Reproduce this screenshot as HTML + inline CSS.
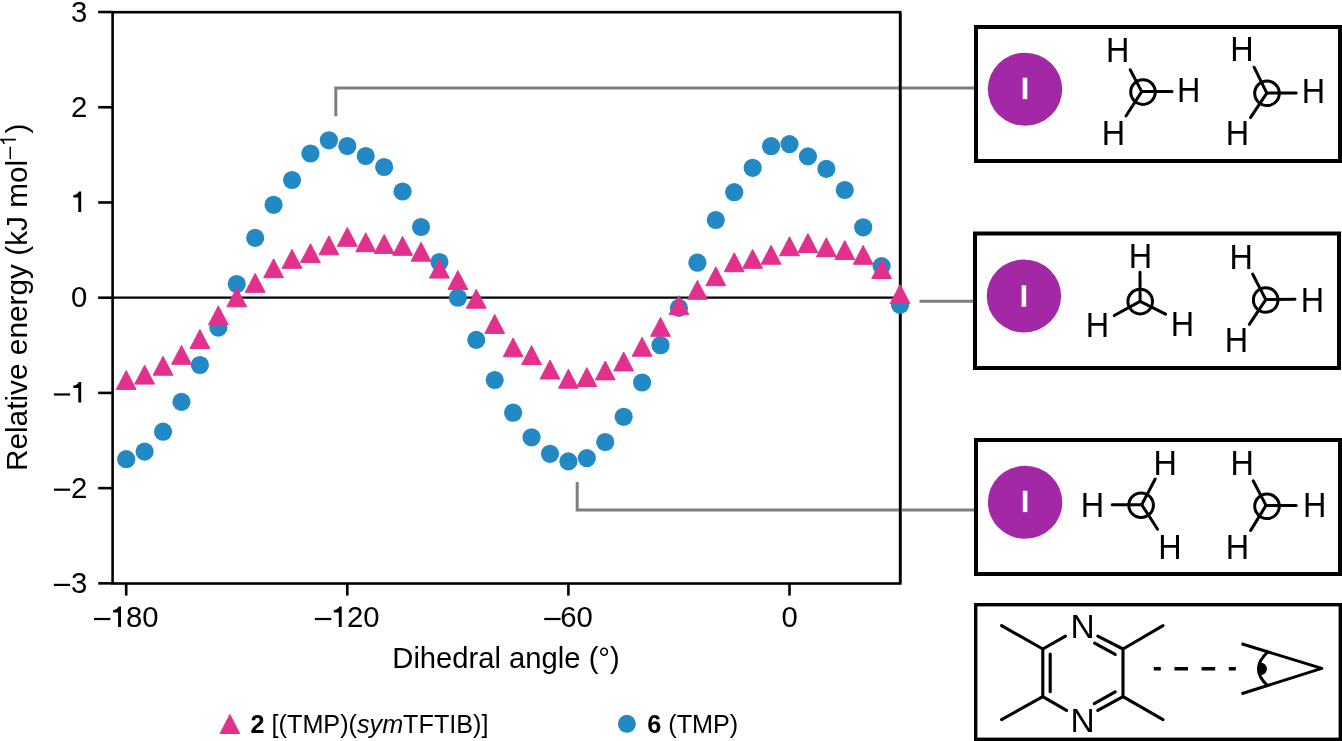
<!DOCTYPE html>
<html><head><meta charset="utf-8"><style>
html,body{margin:0;padding:0;background:#fff;width:1342px;height:741px;overflow:hidden}
svg{display:block;will-change:transform}
text{font-family:"Liberation Sans",sans-serif}
</style></head><body>
<svg width="1342" height="741" viewBox="0 0 1342 741">
<g stroke="#000" stroke-width="2.6" fill="none">
<rect x="112.6" y="12.2" width="787.6" height="571.3"/>
</g>
<line x1="112.6" y1="297.6" x2="900" y2="297.6" stroke="#000" stroke-width="2.4"/>
<g stroke="#000" stroke-width="2.6">
<line x1="98.2" y1="583.36" x2="112.6" y2="583.36"/>
<line x1="98.2" y1="488.14" x2="112.6" y2="488.14"/>
<line x1="98.2" y1="392.92" x2="112.6" y2="392.92"/>
<line x1="98.2" y1="297.70" x2="112.6" y2="297.70"/>
<line x1="98.2" y1="202.48" x2="112.6" y2="202.48"/>
<line x1="98.2" y1="107.26" x2="112.6" y2="107.26"/>
<line x1="98.2" y1="12.04" x2="112.6" y2="12.04"/>
<line x1="126.20" y1="583.5" x2="126.20" y2="595.6"/>
<line x1="347.30" y1="583.5" x2="347.30" y2="595.6"/>
<line x1="568.40" y1="583.5" x2="568.40" y2="595.6"/>
<line x1="789.50" y1="583.5" x2="789.50" y2="595.6"/>
</g>
<text font-family="Liberation Sans" font-size="29.3" text-anchor="end" transform="translate(87.2,592.96) scale(1,1.015)">3</text>
<rect x="53.9" y="583.81" width="16.2" height="2.2" fill="#000"/>
<text font-family="Liberation Sans" font-size="29.3" text-anchor="end" transform="translate(87.2,497.74) scale(1,1.015)">2</text>
<rect x="53.9" y="488.59" width="16.2" height="2.2" fill="#000"/>
<path transform="translate(78.30,402.52)" d="M0.6,-20.6 L2.9,-20.6 L2.9,0 L0,0 L0,-14.6 L-5,-14.6 L-5,-16.9 C-2.4,-17.1 -0.5,-18.4 0.6,-20.6 Z" fill="#000"/>
<rect x="53.9" y="393.37" width="16.2" height="2.2" fill="#000"/>
<text font-family="Liberation Sans" font-size="29.3" text-anchor="end" transform="translate(87.2,307.30) scale(1,1.015)">0</text>
<path transform="translate(78.30,212.08)" d="M0.6,-20.6 L2.9,-20.6 L2.9,0 L0,0 L0,-14.6 L-5,-14.6 L-5,-16.9 C-2.4,-17.1 -0.5,-18.4 0.6,-20.6 Z" fill="#000"/>
<text font-family="Liberation Sans" font-size="29.3" text-anchor="end" transform="translate(87.2,116.86) scale(1,1.015)">2</text>
<text font-family="Liberation Sans" font-size="29.3" text-anchor="end" transform="translate(87.2,21.64) scale(1,1.015)">3</text>
<text font-family="Liberation Sans" font-size="29.3" text-anchor="middle" transform="translate(789.6,627) scale(1,1.015)">0</text>
<rect x="94.0" y="617.9" width="16.4" height="2.2" fill="#000"/>
<path transform="translate(118.10,627.10)" d="M0.6,-20.6 L2.9,-20.6 L2.9,0 L0,0 L0,-14.6 L-5,-14.6 L-5,-16.9 C-2.4,-17.1 -0.5,-18.4 0.6,-20.6 Z" fill="#000"/>
<text font-family="Liberation Sans" font-size="29.3" transform="translate(126.0,627) scale(1,1.015)">80</text>
<rect x="314.9" y="617.9" width="16.4" height="2.2" fill="#000"/>
<path transform="translate(338.80,627.10)" d="M0.6,-20.6 L2.9,-20.6 L2.9,0 L0,0 L0,-14.6 L-5,-14.6 L-5,-16.9 C-2.4,-17.1 -0.5,-18.4 0.6,-20.6 Z" fill="#000"/>
<text font-family="Liberation Sans" font-size="29.3" transform="translate(346.9,627) scale(1,1.015)">20</text>
<rect x="544.2" y="617.9" width="16.4" height="2.2" fill="#000"/>
<text font-family="Liberation Sans" font-size="29.3" transform="translate(560.2,627) scale(1,1.015)">60</text>
<text font-family="Liberation Sans" font-size="29.2" x="392.3" y="668.2">Dihedral angle (°)</text>
<g transform="translate(26.8,471.1) rotate(-90)"><text font-family="Liberation Sans" font-size="29.8" x="0" y="0">Relative energy (kJ mol</text><text font-family="Liberation Sans" font-size="22" x="312.2" y="-11.3">&#8211;</text><path d="M330.7,-11 L332.4,-11 L332.4,-27.5 L331.0,-27.5 C330.6,-25.6 329.4,-24.0 327.2,-23.4 L327.2,-22.0 C328.8,-22.2 330.0,-22.8 330.7,-23.6 Z" fill="#000"/><text font-family="Liberation Sans" font-size="29.8" x="337.5" y="0">)</text></g>
<g stroke="#7F7F7F" stroke-width="3.0" fill="none">
<polyline points="335.8,116.3 335.8,88.1 974,88.1"/>
<line x1="919.5" y1="301.3" x2="974" y2="301.3"/>
<polyline points="577.2,482.1 577.2,509.9 974,509.9"/>
</g>
<line x1="900.2" y1="12.2" x2="900.2" y2="583.5" stroke="#000" stroke-width="2.6"/>
<g fill="#2389C5">
<circle cx="126.20" cy="459.20" r="9.1"/>
<circle cx="144.62" cy="451.60" r="9.1"/>
<circle cx="163.05" cy="431.70" r="9.1"/>
<circle cx="181.48" cy="401.90" r="9.1"/>
<circle cx="199.90" cy="365.00" r="9.1"/>
<circle cx="218.33" cy="327.60" r="9.1"/>
<circle cx="236.75" cy="284.00" r="9.1"/>
<circle cx="255.17" cy="237.90" r="9.1"/>
<circle cx="273.60" cy="204.80" r="9.1"/>
<circle cx="292.02" cy="180.00" r="9.1"/>
<circle cx="310.45" cy="153.50" r="9.1"/>
<circle cx="328.88" cy="140.30" r="9.1"/>
<circle cx="347.30" cy="146.00" r="9.1"/>
<circle cx="365.72" cy="156.00" r="9.1"/>
<circle cx="384.15" cy="167.00" r="9.1"/>
<circle cx="402.57" cy="191.50" r="9.1"/>
<circle cx="421.00" cy="227.00" r="9.1"/>
<circle cx="439.43" cy="262.00" r="9.1"/>
<circle cx="457.85" cy="297.70" r="9.1"/>
<circle cx="476.27" cy="339.90" r="9.1"/>
<circle cx="494.70" cy="380.00" r="9.1"/>
<circle cx="513.12" cy="412.70" r="9.1"/>
<circle cx="531.55" cy="437.30" r="9.1"/>
<circle cx="549.98" cy="453.80" r="9.1"/>
<circle cx="568.40" cy="461.40" r="9.1"/>
<circle cx="586.83" cy="458.10" r="9.1"/>
<circle cx="605.25" cy="442.00" r="9.1"/>
<circle cx="623.67" cy="416.80" r="9.1"/>
<circle cx="642.10" cy="382.50" r="9.1"/>
<circle cx="660.52" cy="345.20" r="9.1"/>
<circle cx="678.95" cy="307.90" r="9.1"/>
<circle cx="697.38" cy="262.70" r="9.1"/>
<circle cx="715.80" cy="220.00" r="9.1"/>
<circle cx="734.23" cy="192.20" r="9.1"/>
<circle cx="752.65" cy="167.80" r="9.1"/>
<circle cx="771.08" cy="146.20" r="9.1"/>
<circle cx="789.50" cy="144.10" r="9.1"/>
<circle cx="807.92" cy="156.40" r="9.1"/>
<circle cx="826.35" cy="168.90" r="9.1"/>
<circle cx="844.77" cy="190.00" r="9.1"/>
<circle cx="863.20" cy="227.30" r="9.1"/>
<circle cx="881.62" cy="266.10" r="9.1"/>
<circle cx="900.05" cy="304.90" r="9.1"/>
</g>
<g fill="#E2318D" stroke="#E2318D" stroke-width="1" stroke-linejoin="round">
<polygon points="126.20,370.50 136.10,389.40 116.30,389.40"/>
<polygon points="144.62,365.20 154.53,384.10 134.72,384.10"/>
<polygon points="163.05,356.30 172.95,375.20 153.15,375.20"/>
<polygon points="181.48,345.40 191.38,364.30 171.58,364.30"/>
<polygon points="199.90,329.60 209.80,348.50 190.00,348.50"/>
<polygon points="218.33,305.90 228.23,324.80 208.43,324.80"/>
<polygon points="236.75,287.90 246.65,306.80 226.85,306.80"/>
<polygon points="255.17,273.40 265.07,292.30 245.27,292.30"/>
<polygon points="273.60,258.80 283.50,277.70 263.70,277.70"/>
<polygon points="292.02,249.40 301.92,268.30 282.12,268.30"/>
<polygon points="310.45,243.70 320.35,262.60 300.55,262.60"/>
<polygon points="328.88,235.90 338.77,254.80 318.98,254.80"/>
<polygon points="347.30,227.40 357.20,246.30 337.40,246.30"/>
<polygon points="365.72,232.80 375.62,251.70 355.82,251.70"/>
<polygon points="384.15,234.50 394.05,253.40 374.25,253.40"/>
<polygon points="402.57,236.40 412.47,255.30 392.68,255.30"/>
<polygon points="421.00,242.30 430.90,261.20 411.10,261.20"/>
<polygon points="439.43,259.20 449.32,278.10 429.53,278.10"/>
<polygon points="457.85,270.50 467.75,289.40 447.95,289.40"/>
<polygon points="476.27,289.30 486.17,308.20 466.38,308.20"/>
<polygon points="494.70,314.50 504.60,333.40 484.80,333.40"/>
<polygon points="513.12,337.90 523.02,356.80 503.23,356.80"/>
<polygon points="531.55,345.70 541.45,364.60 521.65,364.60"/>
<polygon points="549.98,360.10 559.88,379.00 540.08,379.00"/>
<polygon points="568.40,369.30 578.30,388.20 558.50,388.20"/>
<polygon points="586.83,367.60 596.73,386.50 576.93,386.50"/>
<polygon points="605.25,361.00 615.15,379.90 595.35,379.90"/>
<polygon points="623.67,352.00 633.57,370.90 613.77,370.90"/>
<polygon points="642.10,337.30 652.00,356.20 632.20,356.20"/>
<polygon points="660.52,317.40 670.42,336.30 650.62,336.30"/>
<polygon points="678.95,295.70 688.85,314.60 669.05,314.60"/>
<polygon points="697.38,280.40 707.27,299.30 687.48,299.30"/>
<polygon points="715.80,266.80 725.70,285.70 705.90,285.70"/>
<polygon points="734.23,252.80 744.12,271.70 724.33,271.70"/>
<polygon points="752.65,249.40 762.55,268.30 742.75,268.30"/>
<polygon points="771.08,245.30 780.98,264.20 761.18,264.20"/>
<polygon points="789.50,236.80 799.40,255.70 779.60,255.70"/>
<polygon points="807.92,233.60 817.82,252.50 798.02,252.50"/>
<polygon points="826.35,237.80 836.25,256.70 816.45,256.70"/>
<polygon points="844.77,240.60 854.67,259.50 834.88,259.50"/>
<polygon points="863.20,245.40 873.10,264.30 853.30,264.30"/>
<polygon points="881.62,259.60 891.52,278.50 871.73,278.50"/>
<polygon points="900.05,284.60 909.95,303.50 890.15,303.50"/>
</g>
<polygon points="229.9,714.5 239.7,733.5 220.1,733.5" fill="#E2318D" stroke="#E2318D" stroke-width="1" stroke-linejoin="round"/>
<text font-family="Liberation Sans" font-size="25.2" x="250.6" y="732.8"><tspan font-weight="bold">2</tspan> [(TMP)(<tspan font-style="italic">sym</tspan>TFTIB)]</text>
<circle cx="626.9" cy="723.8" r="9" fill="#2389C5"/>
<text font-family="Liberation Sans" font-size="25.2" x="647.3" y="732.8"><tspan font-weight="bold">6</tspan> (TMP)</text>
<rect x="976.0" y="27.0" width="364" height="134" fill="none" stroke="#000" stroke-width="4"/>
<rect x="975.0" y="233.5" width="364" height="134.5" fill="none" stroke="#000" stroke-width="4"/>
<rect x="976.0" y="440.0" width="364" height="134" fill="none" stroke="#000" stroke-width="4"/>
<rect x="975.7" y="604.7" width="364.6" height="134.6" fill="none" stroke="#000" stroke-width="3.4"/>
<ellipse cx="1025" cy="89.2" rx="37.2" ry="36.5" fill="#A228A6"/>
<rect x="1022.7" y="77.7" width="4.6" height="21.4" fill="#fff"/>
<ellipse cx="1023.9" cy="296" rx="37.2" ry="36.5" fill="#A228A6"/>
<rect x="1021.6" y="285.3" width="4.6" height="21.4" fill="#fff"/>
<ellipse cx="1025.1" cy="502.3" rx="37.2" ry="36.5" fill="#A228A6"/>
<rect x="1022.8" y="490.7" width="4.6" height="21.4" fill="#fff"/>
<circle cx="1143" cy="92.1" r="12.3" fill="none" stroke="#000" stroke-width="3.0"/><line x1="1141.7" y1="91.6" x2="1130.2" y2="69.8" stroke="#000" stroke-width="3.0" stroke-linecap="round"/><line x1="1141.7" y1="91.6" x2="1172" y2="91.6" stroke="#000" stroke-width="3.0" stroke-linecap="round"/><line x1="1141.7" y1="91.6" x2="1126" y2="116" stroke="#000" stroke-width="3.0" stroke-linecap="round"/><text font-family="Liberation Sans" font-size="32.4" text-anchor="middle" transform="translate(1117.65,61.6) scale(1,1.09)">H</text><text font-family="Liberation Sans" font-size="32.4" text-anchor="middle" transform="translate(1188.8,101.6) scale(1,1.09)">H</text><text font-family="Liberation Sans" font-size="32.4" text-anchor="middle" transform="translate(1113.5,144.7) scale(1,1.09)">H</text>
<circle cx="1267" cy="93.3" r="12.3" fill="none" stroke="#000" stroke-width="3.0"/><line x1="1266.8" y1="93.1" x2="1254.1" y2="67.2" stroke="#000" stroke-width="3.0" stroke-linecap="round"/><line x1="1266.8" y1="93.1" x2="1296.2" y2="93.1" stroke="#000" stroke-width="3.0" stroke-linecap="round"/><line x1="1266.8" y1="93.1" x2="1250.5" y2="117.6" stroke="#000" stroke-width="3.0" stroke-linecap="round"/><text font-family="Liberation Sans" font-size="32.4" text-anchor="middle" transform="translate(1242.05,61.3) scale(1,1.09)">H</text><text font-family="Liberation Sans" font-size="32.4" text-anchor="middle" transform="translate(1313.4,102.5) scale(1,1.09)">H</text><text font-family="Liberation Sans" font-size="32.4" text-anchor="middle" transform="translate(1237.35,144.7) scale(1,1.09)">H</text>
<circle cx="1140.2" cy="301.6" r="12.3" fill="none" stroke="#000" stroke-width="3.0"/><line x1="1140.1" y1="301.4" x2="1140" y2="272.2" stroke="#000" stroke-width="3.0" stroke-linecap="round"/><line x1="1140.1" y1="301.4" x2="1114.3" y2="315.5" stroke="#000" stroke-width="3.0" stroke-linecap="round"/><line x1="1140.1" y1="301.4" x2="1165.6" y2="314.2" stroke="#000" stroke-width="3.0" stroke-linecap="round"/><text font-family="Liberation Sans" font-size="32.4" text-anchor="middle" transform="translate(1140.35,268.1) scale(1,1.09)">H</text><text font-family="Liberation Sans" font-size="32.4" text-anchor="middle" transform="translate(1097.55,336.9) scale(1,1.09)">H</text><text font-family="Liberation Sans" font-size="32.4" text-anchor="middle" transform="translate(1182.45,336.4) scale(1,1.09)">H</text>
<circle cx="1265.7" cy="300" r="12.3" fill="none" stroke="#000" stroke-width="3.0"/><line x1="1265.8" y1="299.6" x2="1252.6" y2="274" stroke="#000" stroke-width="3.0" stroke-linecap="round"/><line x1="1265.8" y1="299.6" x2="1295" y2="299.3" stroke="#000" stroke-width="3.0" stroke-linecap="round"/><line x1="1265.8" y1="299.6" x2="1249.3" y2="324.3" stroke="#000" stroke-width="3.0" stroke-linecap="round"/><text font-family="Liberation Sans" font-size="32.4" text-anchor="middle" transform="translate(1241.15,268.8) scale(1,1.09)">H</text><text font-family="Liberation Sans" font-size="32.4" text-anchor="middle" transform="translate(1312.45,311.8) scale(1,1.09)">H</text><text font-family="Liberation Sans" font-size="32.4" text-anchor="middle" transform="translate(1236.35,351.8) scale(1,1.09)">H</text>
<circle cx="1141.1" cy="505.2" r="12.3" fill="none" stroke="#000" stroke-width="3.0"/><line x1="1141.7" y1="504.7" x2="1112.2" y2="504.7" stroke="#000" stroke-width="3.0" stroke-linecap="round"/><line x1="1141.7" y1="504.7" x2="1155.2" y2="479" stroke="#000" stroke-width="3.0" stroke-linecap="round"/><line x1="1141.7" y1="504.7" x2="1157.6" y2="529.2" stroke="#000" stroke-width="3.0" stroke-linecap="round"/><text font-family="Liberation Sans" font-size="32.4" text-anchor="middle" transform="translate(1092.55,516.7) scale(1,1.09)">H</text><text font-family="Liberation Sans" font-size="32.4" text-anchor="middle" transform="translate(1165.15,474.6) scale(1,1.09)">H</text><text font-family="Liberation Sans" font-size="32.4" text-anchor="middle" transform="translate(1170,559.3) scale(1,1.09)">H</text>
<circle cx="1267" cy="506.3" r="12.3" fill="none" stroke="#000" stroke-width="3.0"/><line x1="1266" y1="505.4" x2="1253.2" y2="480.8" stroke="#000" stroke-width="3.0" stroke-linecap="round"/><line x1="1266" y1="505.4" x2="1296.2" y2="505.4" stroke="#000" stroke-width="3.0" stroke-linecap="round"/><line x1="1266" y1="505.4" x2="1250.7" y2="530.4" stroke="#000" stroke-width="3.0" stroke-linecap="round"/><text font-family="Liberation Sans" font-size="32.4" text-anchor="middle" transform="translate(1242.15,474.6) scale(1,1.09)">H</text><text font-family="Liberation Sans" font-size="32.4" text-anchor="middle" transform="translate(1314.75,516.8) scale(1,1.09)">H</text><text font-family="Liberation Sans" font-size="32.4" text-anchor="middle" transform="translate(1237.55,559.3) scale(1,1.09)">H</text>
<g stroke="#000" stroke-width="3.1" stroke-linecap="round"><line x1="1042.8" y1="649" x2="1001.6" y2="625.6"/><line x1="1042.8" y1="696.7" x2="1001.6" y2="719.6"/><line x1="1123" y1="649" x2="1163" y2="625.6"/><line x1="1123" y1="696.7" x2="1163" y2="719.6"/><line x1="1042.8" y1="649" x2="1065.5" y2="636.2"/><line x1="1097.8" y1="636.2" x2="1123" y2="649"/><line x1="1094.6" y1="643.2" x2="1115.2" y2="654.4"/><line x1="1042.8" y1="649" x2="1042.8" y2="696.7"/><line x1="1050.2" y1="654" x2="1050.2" y2="691.8"/><line x1="1123" y1="649" x2="1123" y2="696.7"/><line x1="1042.8" y1="696.7" x2="1066.5" y2="710.4"/><line x1="1097.8" y1="710.4" x2="1123" y2="696.7"/><line x1="1094.2" y1="703.6" x2="1115.2" y2="691.8"/></g>
<text font-family="Liberation Sans" font-size="33.5" x="1082.7" y="638.4" text-anchor="middle">N</text>
<text font-family="Liberation Sans" font-size="33.5" x="1082.7" y="731.6" text-anchor="middle">N</text>
<line x1="1153.8" y1="668.8" x2="1236" y2="668.8" stroke="#000" stroke-width="3.4" stroke-dasharray="7 13.6 13.6 13.6 13.6 13.6 7 100"/>
<g stroke="#000" stroke-width="3" fill="none" stroke-linecap="butt" stroke-linejoin="round">
<polyline points="1241.5,643.8 1321.8,668.4 1241.5,693.8"/>
<path d="M1267.6,652.2 Q1249.5,668.8 1267.2,685.4"/>
</g>
<path d="M1258.4,663.2 A6.1,6.1 0 1 1 1258.4,674.4 Z" fill="#000"/>
</svg>
</body></html>
